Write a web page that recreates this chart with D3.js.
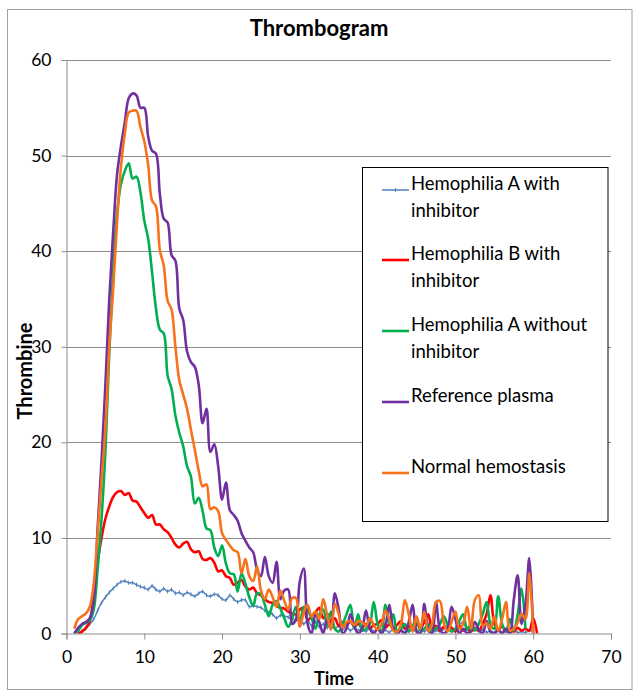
<!DOCTYPE html>
<html>
<head>
<meta charset="utf-8">
<script src="https://cdn.jsdelivr.net/npm/d3@7"></script>
<style>
  body { margin: 0; background: #fff; }
  svg text { font-family: Lato, "Open Sans", sans-serif; fill: #000; }
</style>
</head>
<body>
<div id="chart"></div>
<script>
// time points (min)
var times = [1, 1.5, 2, 2.5, 3, 3.5, 4, 4.5, 5, 5.5, 6, 6.5, 7, 7.5, 8, 8.5, 9, 9.5, 10, 10.5,
  11, 11.5, 12, 12.5, 13, 13.5, 14, 14.5, 15, 15.5, 16, 16.5, 17, 17.5, 18, 18.5, 19, 19.5, 20, 20.5,
  21, 21.5, 22, 22.5, 23, 23.5, 24, 24.5, 25, 25.5, 26, 26.5, 27, 27.5, 28, 28.5, 29, 29.5, 30, 30.5,
  31, 31.5, 32, 32.5, 33, 33.5, 34, 34.5, 35, 35.5, 36, 36.5, 37, 37.5, 38, 38.5, 39, 39.5, 40, 40.5,
  41, 41.5, 42, 42.5, 43, 43.5, 44, 44.5, 45, 45.5, 46, 46.5, 47, 47.5, 48, 48.5, 49, 49.5, 50, 50.5,
  51, 51.5, 52, 52.5, 53, 53.5, 54, 54.5, 55, 55.5, 56, 56.5, 57, 57.5, 58, 58.5, 59, 59.5, 60, 60.5];

var hemoAInhib = [null, 0, 0.3, 0.5, 1.0, 1.5, 2.4, 3.2, 3.8, 4.3, 4.7, 5.1, 5.4, 5.5, 5.3, 5.3, 5.1, 4.9, 4.8, 4.6,
  5.0, 4.6, 4.4, 4.7, 4.4, 4.6, 4.2, 4.3, 4.0, 4.3, 4.1, 3.9, 4.2, 4.4, 4.0, 3.9, 4.1, 4.0, 3.6, 3.5,
  4.0, 3.6, 3.3, 3.5, 3.5, 2.8, 2.9, 2.8, 2.7, 2.4, 2.2, 2.0, 1.6, 1.9, 1.8, 1.7, 1.5, 1.4, 1.3, 1.0,
  1.4, 0.8, 1.2, 0.7, 1.0, 0.6, 0.9, 0.5, 0.8, 0.4, 0.7, 0.3, 0.6, 0.3, 0.5, 0.2, 0.6, 0.2, 0.5, 0.2,
  0.4, 0.1, 0.5, 0.2, 0.4, 0.1, 0.3, 0.5, 0.1, 0.4, 0.2, 0.5, 0.1, 0.3, 0.2, 0.5, 0.8, 0.6, 0.2, 0.9,
  1.2, 0.4, 0.3, 0.6, 0.2, 0.4, 0.1, 0.3, 0.1, 0.3, 0.1, 0.4, 0.1, 0.3, 0.1, 0.2, 0.1, 0.3, 0.2, null];

var hemoBInhib = [null, 0, 0.2, 0.6, 1.3, 4.2, 7.5, 10, 12, 13.3, 14.3, 14.8, 14.9, 14.5, 14.7, 13.9, 13.8, 13.2, 12.6, 12.1,
  12.4, 11.4, 11.4, 10.9, 10.6, 10.0, 9.3, 9.0, 9.4, 9.6, 8.8, 8.5, 8.6, 7.8, 7.7, 7.9, 7.4, 6.5, 6.6, 6.0,
  5.8, 5.1, 5.3, 5.6, 4.9, 4.6, 4.8, 4.2, 4.0, 3.6, 3.3, 3.2, 2.9, 2.7, 2.6, 2.3, 2.1, 2.0, 2.5, 2.7,
  1.4, 1.8, 2.2, 2.7, 1.6, 2.1, 1.2, 1.6, 0.8, 1.2, 0.9, 1.3, 0.7, 1.0, 0.6, 1.0, 0.5, 0.9, 1.0, 1.4,
  0.6, 1.0, 0.5, 0.9, 1.3, 0.5, 0.8, 0.3, 1.0, 0.6, 1.2, 2.0, 0.5, 0.8, 0.3, 0.7, 0.4, 0.6, 0.2, 0.8,
  0.3, 0.6, 0.2, 0.5, 0.3, 1.0, 2.0, 4.0, 1.0, 0.3, 0.8, 0.2, 0.5, 0.2, 0.6, 0.3, 0.5, 0.3, 1.6, 0];

var hemoANoInhib = [0, 0.3, 0.9, 1.1, 1.4, 2.5, 6.7, 12, 19, 29.4, 38, 44, 47, 48.4, 49.2, 47.6, 47.8, 46.2, 43.2, 41.3,
  37.8, 34, 31.8, 31.4, 27, 25.6, 22.8, 21, 19.6, 17.5, 16.4, 13.6, 14.2, 12.8, 11, 10.8, 9, 8.1, 9.2, 7.3,
  6.3, 6.2, 4.4, 6.3, 5.2, 3.8, 2.9, 4.2, 4.1, 3.0, 1.8, 3.0, 3.4, 2.6, 1.6, 0.7, 1.5, 2.8, 1.0, 2.8,
  2.4, 1.6, 0.5, 2.0, 2.5, 0.8, 2.3, 0.5, 0.2, 1.0, 2.0, 3.0, 0.5, 2.0, 0.3, 0.5, 1.0, 3.3, 1.0, 0.2,
  3.0, 1.0, 2.0, 0.3, 0.5, 1.0, 0.2, 0.8, 1.5, 0.3, 0.5, 1.0, 0.3, 0.5, 1.0, 1.8, 0.9, 0.2, 0.5, 1.3,
  2.0, 0.4, 1.0, 0.3, 1.0, 2.0, 3.3, 1.0, 0.5, 3.9, 1.0, 0.2, 1.5, 0.3, 2.0, 4.7, 0.5, null, null, null];

var refPlasma = [0, 0.6, 1.0, 1.2, 1.6, 3.5, 11, 18, 26, 35, 42, 48, 51, 53.5, 56, 56.5, 56.3, 55, 55, 52,
  50.5, 50.2, 46, 43.4, 43, 39.6, 39, 34, 32.8, 29.5, 28.4, 27.9, 26, 22, 23.5, 19, 19.8, 17.5, 14, 15.8,
  12.9, 12.4, 11.8, 10.5, 9.7, 9, 8.5, 6.7, 6, 8, 6, 5.3, 7.5, 3.6, 4.5, 4.6, 1, 1.5, 5.5, 6.8,
  1.0, 0, 2.0, 1.2, 0, 1.5, 0.5, 4.2, 2.5, 0, 0.5, 2.0, 0.8, 0, 0.5, 2.4, 0.5, 0, 0.5, 0,
  0.8, 3.0, 0.5, 0, 0.3, 0, 1.2, 3.0, 0.3, 0, 3.1, 0.5, 0, 3.3, 0.5, 0, 0.4, 2.8, 1.5, 0,
  0.5, 0, 0.3, 1.2, 0.4, 0, 1.3, 0.2, 0, 0.4, 0, 0.5, 0, 3.5, 6.1, 1.0, 3.0, 7.9, 0, null];

var normalHemo = [0.5, 1.5, 1.8, 2.1, 2.8, 5.2, 10.5, 16, 21.5, 30, 36, 43, 48.8, 52.3, 54.5, 54.7, 54.7, 53, 51.5, 49,
  45.3, 44.7, 40.1, 38.5, 34.8, 33.9, 30, 26.5, 25, 23.5, 21.3, 19.2, 17, 15.4, 15.6, 13, 13.2, 12.8, 10.5, 9.8,
  9.2, 8.7, 8.5, 6.3, 7.8, 6.0, 5.5, 7.0, 4.5, 3.6, 4.6, 3.8, 2.8, 4.5, 3.4, 2.5, 3.7, 3.7, 0.7, 2.2,
  3.0, 1.8, 2.3, 1.5, 3.6, 2.0, 0.4, 3.1, 2.0, 0.6, 1.2, 1.3, 0.9, 1.3, 1.2, 0.8, 1.6, 0.9, 0.4, 1.0,
  2.4, 1.5, 0.3, 0.2, 1.0, 3.5, 2.0, 0.2, 1.8, 0.5, 2.3, 0.2, 1.0, 3.3, 3.4, 1.1, 0.2, 1.2, 2.3, 0.5,
  1.0, 2.8, 0.5, 3.5, 4.0, 0.8, 1.1, 0.5, 1.8, 0.3, 1.5, 3.3, 0.3, 0.5, 1.1, 2.1, 1.5, 6.3, 0, null];

var seriesNames = ["Hemophilia A with inhibitor", "Hemophilia B with inhibitor",
  "Hemophilia A without inhibitor", "Reference plasma", "Normal hemostasis"];
var seriesColors = ["#4f81bd", "#ff0000", "#00b050", "#7030a0", "#f7721b"];
var seriesValues = [hemoAInhib, hemoBInhib, hemoANoInhib, refPlasma, normalHemo];
// legend text lines
var legendLines = [["Hemophilia A with", "inhibitor"], ["Hemophilia B with", "inhibitor"],
  ["Hemophilia A without", "inhibitor"], ["Reference plasma"], ["Normal hemostasis"]];

var xTicks = [0, 10, 20, 30, 40, 50, 60, 70];
var yTicks = [0, 10, 20, 30, 40, 50, 60];

var W = 634, H = 691;
var svg = d3.select("#chart").append("svg").attr("width", W).attr("height", H);

// outer chart frame
svg.append("rect").attr("x", 7.5).attr("y", 9.5).attr("width", 624.5).attr("height", 680)
  .attr("fill", "#fff").attr("stroke", "#a0a0a0").attr("stroke-width", 1);

var x = d3.scaleLinear().domain([0, 70]).range([66.5, 611]);
var y = d3.scaleLinear().domain([0, 60]).range([633.5, 60]);

// gridlines
svg.append("g").selectAll("line").data(yTicks.slice(1)).enter().append("line")
  .attr("x1", x(0)).attr("x2", x(70))
  .attr("y1", function (d) { return Math.round(y(d)) + 0.5; })
  .attr("y2", function (d) { return Math.round(y(d)) + 0.5; })
  .attr("stroke", "#8c8c8c").attr("stroke-width", 1);

// axes
var yAxis = svg.append("g").attr("transform", "translate(" + x(0) + ",0)")
  .call(d3.axisLeft(y).tickValues(yTicks).tickSize(5).tickPadding(10));
var xAxis = svg.append("g").attr("transform", "translate(0," + y(0) + ")")
  .call(d3.axisBottom(x).tickValues(xTicks).tickSize(6).tickPadding(11));
[xAxis, yAxis].forEach(function (a) {
  a.select(".domain").attr("stroke", "#8c8c8c");
  a.selectAll(".tick line").attr("stroke", "#8c8c8c");
  a.selectAll("text").style("font-size", "17.5px").style("font-family", "Lato, sans-serif").attr("fill", "#000");
});

// clip lines to the plot area
svg.append("clipPath").attr("id", "plotclip").append("rect")
  .attr("x", x(0)).attr("y", y(60) - 10).attr("width", x(70) - x(0)).attr("height", y(0) - y(60) + 10);

var line = d3.line()
  .defined(function (d) { return d[1] != null; })
  .x(function (d) { return x(d[0]); })
  .y(function (d) { return y(d[1]); })
  .curve(d3.curveCatmullRom);

var plot = svg.append("g").attr("clip-path", "url(#plotclip)");
for (var s = 0; s < seriesValues.length; s++) {
  var pts = [];
  for (var i = 0; i < times.length; i++) {
    pts.push([times[i], seriesValues[s][i]]);
  }
  plot.append("path").datum(pts)
    .attr("d", line)
    .attr("fill", "none")
    .attr("stroke", seriesColors[s])
    .attr("stroke-width", s == 0 ? 1.5 : 2.6)
    .attr("stroke-linejoin", "round");
  if (s == 0) {
    // little dash markers on the blue series
    plot.append("g").selectAll("line").data(pts.filter(function (d) { return d[1] != null; }))
      .enter().append("line")
      .attr("x1", function (d) { return x(d[0]); })
      .attr("x2", function (d) { return x(d[0]); })
      .attr("y1", function (d) { return y(d[1]) - 2; })
      .attr("y2", function (d) { return y(d[1]) + 2; })
      .attr("stroke", seriesColors[0]).attr("stroke-width", 1);
  }
}

// title
svg.append("text").attr("x", 319).attr("y", 36).attr("text-anchor", "middle")
  .style("font-size", "22px").style("font-weight", "bold").text("Thrombogram");

// axis titles
svg.append("text").attr("x", 334).attr("y", 685).attr("text-anchor", "middle")
  .style("font-size", "18px").style("font-weight", "bold").text("Time");
svg.append("text").attr("transform", "translate(32,371) rotate(-90)").attr("text-anchor", "middle")
  .style("font-size", "20px").style("font-weight", "bold").text("Thrombine");

// legend
var legend = svg.append("g");
legend.append("rect").attr("x", 362.5).attr("y", 167.5).attr("width", 245.5).attr("height", 354)
  .attr("fill", "#fff").attr("stroke", "#000").attr("stroke-width", 1);
var legendY = [190, 260, 331, 402, 473];
for (var k = 0; k < legendLines.length; k++) {
  legend.append("line").attr("x1", 382).attr("x2", 409)
    .attr("y1", legendY[k]).attr("y2", legendY[k])
    .attr("stroke", seriesColors[k]).attr("stroke-width", k == 0 ? 1.5 : 2.6);
  if (k == 0) {
    legend.append("line").attr("x1", 395.5).attr("x2", 395.5)
      .attr("y1", legendY[k] - 2).attr("y2", legendY[k] + 2)
      .attr("stroke", seriesColors[0]).attr("stroke-width", 1);
  }
  legend.append("text").attr("x", 411).attr("y", legendY[k])
    .attr("dy", "0.35em").style("font-size", "18.5px")
    .selectAll("tspan").data(legendLines[k]).enter().append("tspan")
    .attr("x", 411).attr("dy", function (d, j) { return j == 0 ? 0 : 26.7; })
    .text(function (d) { return d; });
}
</script>
</body>
</html>
